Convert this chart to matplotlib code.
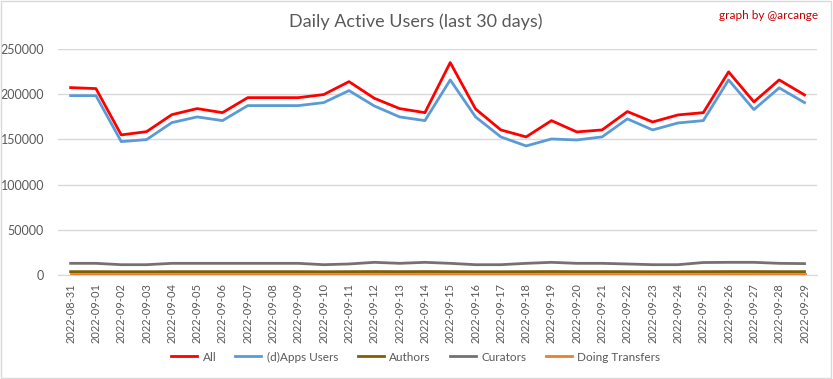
import numpy as np
import matplotlib.pyplot as plt
from matplotlib.patches import Rectangle

plt.rcParams['font.family'] = ['Lato', 'DejaVu Sans']

# data
dates = ["2022-08-31"] + ["2022-09-%02d" % d for d in range(1, 30)]

all_users = [207200, 206100, 154900, 158500, 177300, 184000, 179500, 196100, 196100, 196100,
             199500, 213800, 195400, 184000, 179500, 234900, 183600, 160400, 152700, 170700,
             158200, 160400, 180700, 169200, 177000, 179500, 224600, 191400, 215700, 199100]
dapps_users = [198300, 198300, 147500, 149700, 168500, 174800, 170700, 187300, 187300, 187300,
               190600, 203900, 186900, 174800, 170700, 215700, 174800, 152700, 142700, 150400,
               149300, 152700, 172600, 160400, 168100, 170700, 215700, 182900, 206900, 190600]
authors = [3700, 3700, 3600, 3600, 3700, 3700, 3700, 3700, 3700, 3700,
           3600, 3700, 3800, 3700, 3800, 3700, 3600, 3600, 3700, 3800,
           3700, 3700, 3700, 3600, 3600, 3700, 3800, 3800, 3700, 3700]
curators = [12900, 12900, 11400, 11400, 12900, 12900, 12900, 12900, 12900, 12900,
            11400, 12200, 14000, 12900, 14000, 12900, 11400, 11400, 12900, 14000,
            12900, 12900, 12200, 11400, 11400, 13800, 14000, 14000, 12900, 12600]
transfers = [1500, 1500, 1500, 1500, 1500, 1500, 1500, 1500, 1500, 1500,
             1500, 1500, 1500, 1500, 1500, 1500, 1500, 1500, 1500, 1500,
             1500, 1500, 1500, 1500, 1500, 1500, 1500, 1500, 1500, 1500]

fig = plt.figure(figsize=(8.33, 3.79), dpi=100)
ax = fig.add_axes([0.0696, 0.2744, 0.9114, 0.5966])

x = np.arange(len(dates))
ax.plot(x, all_users, color="#ff0000", lw=2.0, label="All", zorder=5)
ax.plot(x, dapps_users, color="#5b9bd5", lw=2.0, label="(d)Apps Users", zorder=4)
ax.plot(x, authors, color="#7f6000", lw=2.0, label="Authors", zorder=3)
ax.plot(x, curators, color="#767171", lw=2.0, label="Curators", zorder=3)
ax.plot(x, transfers, color="#ed7d31", lw=2.0, label="Doing Transfers", zorder=3)

ax.set_xlim(-0.5, len(dates) - 0.5)
ax.set_ylim(0, 250000)
ax.set_yticks(range(0, 250001, 50000))
ax.set_yticklabels([str(v) for v in range(0, 250001, 50000)])
ax.set_xticks(x)
ax.set_xticklabels(dates, rotation=90)
ax.tick_params(axis="both", length=0, labelsize=9, colors="#595959")
ax.tick_params(axis="x", pad=6, labelsize=8)
ax.tick_params(axis="y", pad=10)
ax.grid(axis="y", color="#d9d9d9", lw=1.0)
ax.set_axisbelow(True)
for s in ["top", "right", "left"]:
    ax.spines[s].set_visible(False)
ax.spines["bottom"].set_color("#d9d9d9")

fig.text(0.499, 0.942, "Daily Active Users (last 30 days)", ha="center", va="center",
         fontsize=13, color="#595959")
fig.text(0.982, 0.96, "graph by @arcange", ha="right", va="center", fontsize=8.5, color="#c00000")

fig.legend(loc="center", bbox_to_anchor=(0.499, 0.058), ncol=5, frameon=False,
           fontsize=8.5, labelcolor="#595959", handlelength=2.2, columnspacing=1.6,
           handletextpad=0.5)

fig.patches.append(Rectangle((0.001, 0.002), 0.997, 0.995, transform=fig.transFigure,
                             fill=False, edgecolor="#d9d9d9", lw=1.0))

fig.savefig("out.png", dpi=100)
